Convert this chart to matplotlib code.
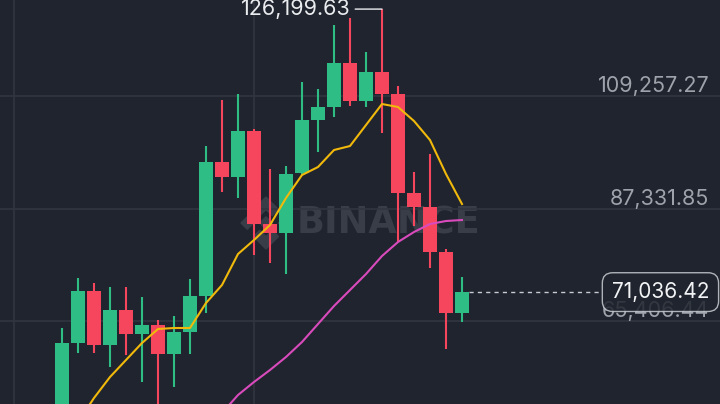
import matplotlib
matplotlib.use("Agg")
import matplotlib.pyplot as plt
from matplotlib.patches import Polygon
import numpy as np

# daily candles, oldest first
opens  = [47000, 61119, 71253, 60729, 67551, 62875, 64627, 58977, 63263, 70279,
          96394, 93471, 102436, 84311, 82557, 94250, 104580, 107113, 115688, 108283,
          113934, 109647, 90353, 87624, 78854, 66964]
highs  = [64043, 73787, 72812, 72033, 72033, 70084, 65602, 66381, 73592, 99512,
          108477, 109647, 102826, 95030, 95615, 111985, 110621, 123094, 124458, 117832,
          126199.63, 111206, 94445, 97953, 79439, 73982]
lows   = [45000, 59170, 59170, 56442, 58781, 53518, 47000, 52544, 58977, 66964,
          90548, 89378, 78269, 76710, 74567, 93861, 98343, 105164, 107308, 107113,
          102046, 80803, 83921, 75736, 59950, 65212]
closes = [61119, 71253, 60729, 67551, 62875, 64627, 58977, 63263, 70279, 96394,
          93471, 102436, 84311, 82557, 94056, 104580, 107113, 115688, 108283, 113934,
          109647, 90353, 87624, 78854, 66964, 71036.42]

# moving averages (yellow starts at candle 1, magenta at candle 10)
ma_short = [45723, 50400, 54493, 57806, 61119, 63848, 64043, 64043, 68915, 72423,
            78464, 81193, 84116, 89378, 93861, 95420, 98733, 99512, 103605, 107698,
            107113, 104385, 100682, 94056, 88209]
ma_long = [47477, 50985, 53518, 55857, 58391, 61314, 64822, 68330, 71448, 74567,
           78075, 80803, 82752, 84311, 84896, 85091]

grid_prices = [109257.27, 87331.85, 65406.44]
grid_labels = ["109,257.27", "87,331.85", "65,406.44"]
high_label = "126,199.63"
last_label = "71,036.42"

BG = "#20242e"
GRID = "#30353f"
UP = "#2ebd85"
DOWN = "#f6465d"
FONT = "Inter"

fig = plt.figure(figsize=(7.2, 4.04), dpi=100, facecolor=BG)
ax = fig.add_axes([0, 0, 1, 1])
ax.set_facecolor(BG)
ax.set_xlim(-3.875, 41.125)
ax.set_ylim(49230, 127970)
ax.axis("off")

# grid
for p in grid_prices:
    ax.axhline(p, color=GRID, lw=1.2, zorder=1)
for gx in [-3, 12]:
    ax.axvline(gx, color=GRID, lw=1.2, zorder=1)

# watermark
ax.text(0.54, 0.448, "BINANCE", transform=ax.transAxes, ha="center", va="center",
        fontsize=26.5, fontweight="bold", family="DejaVu Sans", color="#383d48", zorder=0.5)
cx, cy, s = 2.66, 1.81, 0.26
logo = [
    [(0, 0.24), (0.24, 0), (0, -0.24), (-0.24, 0)],
    [(0.72, 0.24), (0.96, 0), (0.72, -0.24), (0.48, 0)],
    [(-0.72, 0.24), (-0.48, 0), (-0.72, -0.24), (-0.96, 0)],
    [(0, 1), (0.48, 0.52), (0.24, 0.28), (0, 0.52), (-0.24, 0.28), (-0.48, 0.52)],
    [(0, -1), (0.48, -0.52), (0.24, -0.28), (0, -0.52), (-0.24, -0.28), (-0.48, -0.52)],
]
for shape in logo:
    pts = [(cx + s * a, cy + s * b) for a, b in shape]
    ax.add_patch(Polygon(pts, closed=True, transform=fig.dpi_scale_trans,
                         color="#383d48", zorder=0.5, clip_on=False))

# candles
x = np.arange(len(opens))
o = np.array(opens); c = np.array(closes)
cols = [UP if cc >= oo else DOWN for oo, cc in zip(opens, closes)]
ax.vlines(x, lows, highs, colors=cols, lw=1.5, zorder=2)
ax.bar(x, np.abs(c - o), bottom=np.minimum(o, c), width=0.875, color=cols,
       linewidth=0, zorder=3)

# moving averages
ax.plot(x[1:], ma_short, color="#f0b90b", lw=1.5, zorder=4)
ax.plot(x[10:], ma_long, color="#d94bbd", lw=1.5, zorder=4)

# right price labels
for p, lbl in zip(grid_prices, grid_labels):
    ax.annotate(lbl, xy=(0.985, p), xycoords=("axes fraction", "data"),
                xytext=(0, 4), textcoords="offset pixels", ha="right", va="baseline",
                fontsize=15.5, family=FONT, color="#9ea3ab", zorder=5)

# highest price marker
hi = int(np.argmax(highs))
ax.annotate(high_label, xy=(hi, highs[hi]), xytext=(-31, 0), textcoords="offset pixels",
            ha="right", va="center", fontsize=15.5, family=FONT, color="#eaecef",
            arrowprops=dict(arrowstyle="-", color="#eaecef", lw=1, shrinkA=1, shrinkB=0),
            zorder=5)

# last price line + box
last = closes[-1]
ax.hlines(last, x[-1] + 0.45, 33.6, colors="#c8ccd2", lw=1, linestyles=(0, (3, 3)), zorder=5)
ax.annotate(last_label, xy=(0.985, last), xycoords=("axes fraction", "data"),
            ha="right", va="center", fontsize=15, family=FONT, color="#f2f3f5",
            bbox=dict(boxstyle="round,pad=0.45,rounding_size=0.5", fc=BG, ec="#c8ccd2",
                      lw=1, alpha=0.85), zorder=6)

fig.savefig("out.png", dpi=100, facecolor=BG)
